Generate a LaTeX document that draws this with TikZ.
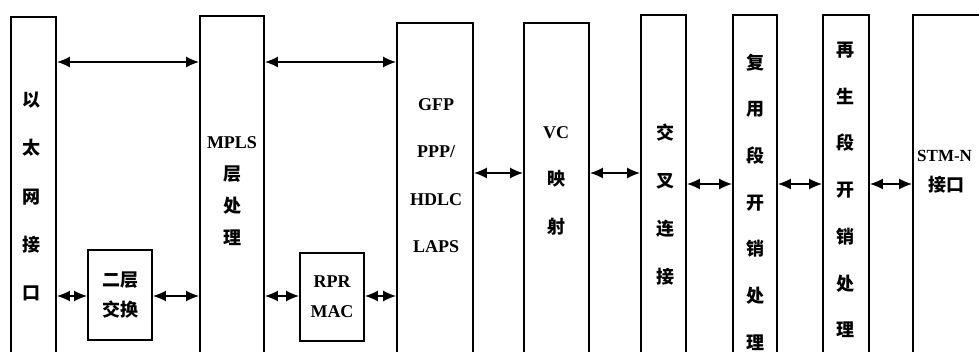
\documentclass[tikz,border=0pt]{standalone}
\usepackage{fontspec}
\setmainfont{Liberation Serif}
\newfontfamily\cjk{Noto Sans CJK SC}
\usetikzlibrary{positioning,arrows.meta}

\begin{document}
\begin{tikzpicture}[x=1pt, y=-1pt,
        blk/.style={rectangle, draw=black, line width=1.8pt, inner sep=0pt},
        zhlbl/.style={align=center, inner sep=0pt, font=\cjk\bfseries\fontsize{18}{47.5}\selectfont},
        arrow/.style={draw=black, line width=1.6pt, {Latex[length=13pt,width=11pt]}-{Latex[length=13pt,width=11pt]}}
    ]
        \useasboundingbox (0,0) rectangle (979,352);
        \clip (0,0) rectangle (979,352);

        % tall blocks, cut off at the bottom
        \node [blk, minimum width=45, minimum height=363] (eth) at (33.5,198.5) {};
        \node [blk, minimum width=64, minimum height=364] (mpls) at (232,198) {};
        \node [blk, minimum width=76, minimum height=357] (gfp) at (435,201.5) {};
        \node [blk, minimum width=65, minimum height=357] (vc) at (556.5,201.5) {};
        \node [blk, minimum width=45, minimum height=365] (cross) at (663.5,197.5) {};
        \node [blk, minimum width=44, minimum height=365] (msoh) at (755,197.5) {};
        \node [blk, minimum width=46, minimum height=365] (rsoh) at (846,197.5) {};
        \node [blk, minimum width=87, minimum height=365] (stm) at (956.5,197.5) {};
        % small blocks
        \node [blk, minimum width=64, minimum height=90, zhlbl, font=\cjk\bfseries\fontsize{18}{30}\selectfont] (l2sw) at (120,295) {二层\\交换};
        \node [blk, minimum width=64, minimum height=88, zhlbl, font=\rmfamily\bfseries\fontsize{18}{30}\selectfont] (rpr) at (332,297) {RPR\\MAC};

        % labels
        \node [zhlbl, font=\cjk\bfseries\fontsize{18}{48.25}\selectfont] (ethtxt) at (31,196.5) {以\\太\\网\\接\\口};
        \node [zhlbl, font=\cjk\bfseries\fontsize{18}{32}\selectfont] (mplstxt) at (232,191.5) {{\rmfamily\fontsize{18}{32}\selectfont MPLS}\\层\\处\\理};
        \node [zhlbl, font=\rmfamily\bfseries\fontsize{18}{47.5}\selectfont] (gfptxt) at (436,175.5) {GFP\\PPP/\\HDLC\\LAPS};
        \node [zhlbl] (vctxt) at (556,180.5) {{\rmfamily\fontsize{18}{47.5}\selectfont VC}\\映\\射};
        \node [zhlbl, font=\cjk\bfseries\fontsize{18}{48}\selectfont] (crosstxt) at (665,205) {交\\叉\\连\\接};
        \node [zhlbl, font=\cjk\bfseries\fontsize{18}{46.7}\selectfont] (msohtxt) at (755,202) {复\\用\\段\\开\\销\\处\\理};
        \node [zhlbl, font=\cjk\bfseries\fontsize{18}{46.7}\selectfont] (rsohtxt) at (845,190) {再\\生\\段\\开\\销\\处\\理};
        \node [zhlbl, align=left, anchor=west, font=\cjk\bfseries\fontsize{18}{30}\selectfont] (stmtxt) at (917,172) {{\rmfamily\fontsize{17}{30}\selectfont STM-N}\\\hspace*{11pt}接口};

        % connectors
        \draw [arrow] (eth.east |- 0,62) -- (mpls.west |- 0,62);
        \draw [arrow] (mpls.east |- 0,62) -- (gfp.west |- 0,62);
        \draw [arrow] (eth.east |- 0,296) -- (l2sw.west |- 0,296);
        \draw [arrow] (l2sw.east |- 0,296) -- (mpls.west |- 0,296);
        \draw [arrow] (mpls.east |- 0,296) -- (rpr.west |- 0,296);
        \draw [arrow] (rpr.east |- 0,296) -- (gfp.west |- 0,296);
        \draw [arrow] (gfp.east |- 0,173) -- (vc.west |- 0,173);
        \draw [arrow] (vc.east |- 0,173) -- (cross.west |- 0,173);
        \draw [arrow] (cross.east |- 0,184) -- (msoh.west |- 0,184);
        \draw [arrow] (msoh.east |- 0,184) -- (rsoh.west |- 0,184);
        \draw [arrow] (rsoh.east |- 0,184) -- (stm.west |- 0,184);
    \end{tikzpicture}
\end{document}
